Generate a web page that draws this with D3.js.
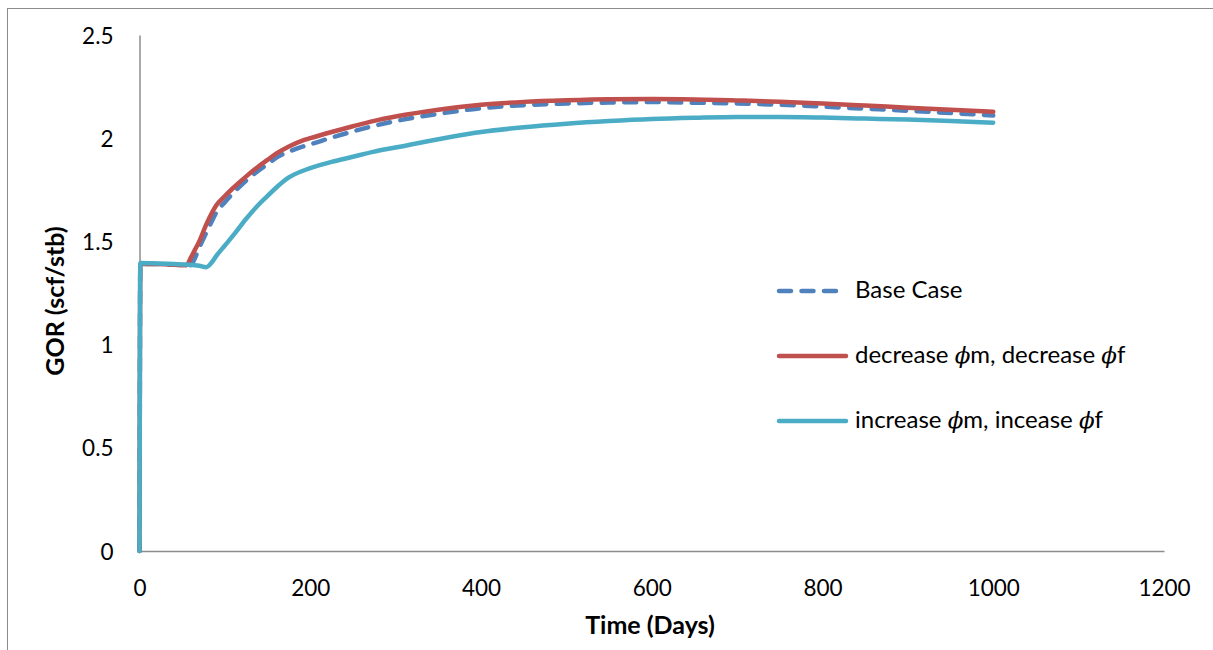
<!DOCTYPE html>
<html><head><meta charset="utf-8">
<script src="https://cdn.jsdelivr.net/npm/d3@7"></script>
<style>body{margin:0;background:#fff;} svg{display:block;}</style>
</head><body>
<svg id="c" width="1213" height="650"></svg>
<script>
const days = [0, 1, 20, 40, 55, 60, 65, 70, 78, 85, 90, 100, 110, 125, 140, 150, 160, 175, 190, 200, 225, 250, 275, 300, 350, 400, 450, 500, 550, 600, 650, 700, 750, 800, 850, 900, 950, 1000];
const baseCase = [0, 1.39, 1.39, 1.387, 1.385, 1.385, 1.42, 1.47, 1.54, 1.60, 1.64, 1.69, 1.735, 1.795, 1.845, 1.875, 1.905, 1.935, 1.958, 1.97, 2.003, 2.033, 2.06, 2.083, 2.118, 2.145, 2.16, 2.168, 2.173, 2.175, 2.172, 2.168, 2.162, 2.153, 2.143, 2.133, 2.122, 2.11];
const decrease = [0, 1.39, 1.39, 1.387, 1.385, 1.42, 1.46, 1.50, 1.58, 1.64, 1.675, 1.72, 1.76, 1.815, 1.865, 1.895, 1.925, 1.96, 1.987, 2.0, 2.03, 2.058, 2.084, 2.105, 2.138, 2.162, 2.176, 2.184, 2.189, 2.19, 2.188, 2.183, 2.177, 2.168, 2.158, 2.148, 2.138, 2.128];
const increase = [0, 1.395, 1.393, 1.39, 1.388, 1.386, 1.385, 1.382, 1.375, 1.40, 1.43, 1.48, 1.53, 1.61, 1.68, 1.72, 1.76, 1.81, 1.84, 1.855, 1.885, 1.91, 1.935, 1.955, 1.995, 2.03, 2.053, 2.07, 2.083, 2.093, 2.099, 2.103, 2.103, 2.10, 2.095, 2.09, 2.083, 2.075];
const seriesNames = [["Base Case"], ["decrease ", "\u03D5", "m, decrease ", "\u03D5", "f"], ["increase ", "\u03D5", "m, incease ", "\u03D5", "f"]];
const seriesColors = ["#4F81BD", "#C0504D", "#4BACC6"];
const xTicks = [0, 200, 400, 600, 800, 1000, 1200];
const yTicks = [0, 0.5, 1, 1.5, 2, 2.5];

const svg = d3.select("#c");
const font = "Lato, 'Open Sans', sans-serif";
svg.append("rect").attr("x", 7.5).attr("y", 8.5).attr("width", 1215).attr("height", 650)
  .attr("fill", "none").attr("stroke", "#8c8c8c").attr("stroke-width", 1);

const x = d3.scaleLinear().domain([0, 1200]).range([139.5, 1164]);
const y = d3.scaleLinear().domain([0, 2.5]).range([551, 35]);

const xAxis = svg.append("g").attr("transform", `translate(0,${y(0)})`)
  .call(d3.axisBottom(x).tickValues(xTicks).tickSize(0).tickPadding(29).tickFormat(d3.format("d")));
const yAxis = svg.append("g").attr("transform", `translate(${x(0)},0)`)
  .call(d3.axisLeft(y).tickValues(yTicks).tickSize(0).tickPadding(26).tickFormat(d => String(d)));
[xAxis, yAxis].forEach(a => {
  a.select(".domain").attr("stroke", "#8c8c8c").attr("stroke-width", 1.5);
  a.selectAll("text").attr("font-family", font).attr("font-size", 22.5).attr("fill", "#000");
});
yAxis.selectAll("text").attr("dy", "0.36em");

const sets = [baseCase, decrease, increase];
const line = d3.line().x(d => x(d[0])).y(d => y(d[1])).curve(d3.curveMonotoneX);
sets.forEach((vals, i) => {
  const pts = days.map((d, j) => [d, vals[j]]);
  svg.append("path").datum(pts).attr("d", line)
    .attr("fill", "none").attr("stroke", seriesColors[i]).attr("stroke-width", 4.5)
    .attr("stroke-linecap", "round").attr("stroke-linejoin", "round")
    .attr("stroke-dasharray", i === 0 ? "12,10.5" : null);
});

const leg = svg.append("g");
seriesNames.forEach((parts, i) => {
  const ly = 291 + i * 65;
  leg.append("line").attr("x1", 779).attr("x2", 846).attr("y1", ly).attr("y2", ly)
    .attr("stroke", seriesColors[i]).attr("stroke-width", 4.5).attr("stroke-linecap", "round")
    .attr("stroke-dasharray", i === 0 ? "12,10.5" : null);
  const t = leg.append("text").attr("x", 855).attr("y", ly + 7)
    .attr("font-family", font).attr("font-size", 24).attr("fill", "#000");
  parts.forEach(p => {
    const ts = t.append("tspan").text(p);
    if (p === "\u03D5") ts.attr("font-family", "'DejaVu Serif', serif").attr("font-style", "italic").attr("font-size", 23);
  });
});

svg.append("text").attr("x", 650).attr("y", 634).attr("text-anchor", "middle")
  .attr("font-family", font).attr("font-size", 25).attr("font-weight", "bold").text("Time (Days)");
svg.append("text").attr("transform", "translate(64,301) rotate(-90)").attr("text-anchor", "middle")
  .attr("font-family", font).attr("font-size", 25).attr("font-weight", "bold").text("GOR (scf/stb)");
</script>
</body></html>
